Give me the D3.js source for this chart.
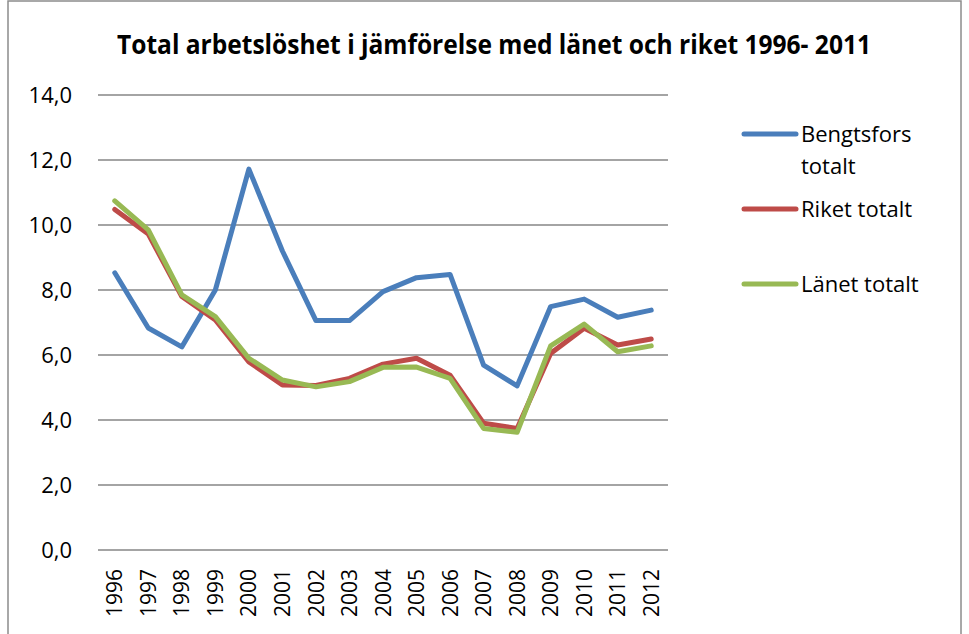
<!DOCTYPE html>
<html>
<head>
<meta charset="utf-8">
<script src="https://cdn.jsdelivr.net/npm/d3@7"></script>
<style>
	body { margin: 0; background: #fff; }
	svg { display: block; font-family: "Open Sans", sans-serif; }
</style>
</head>
<body>
<div id="chart"></div>
<script>
var years = ["1996", "1997", "1998", "1999", "2000", "2001", "2002", "2003", "2004", "2005", "2006", "2007", "2008", "2009", "2010", "2011", "2012"];
var bengtsfors = [8.53, 6.83, 6.25, 8.0, 11.72, 9.2, 7.06, 7.06, 7.95, 8.38, 8.48, 5.69, 5.05, 7.49, 7.72, 7.16, 7.38];
var riket = [10.48, 9.72, 7.8, 7.08, 5.79, 5.08, 5.06, 5.28, 5.72, 5.9, 5.38, 3.9, 3.74, 6.05, 6.82, 6.31, 6.49];
var lanet = [10.74, 9.85, 7.85, 7.18, 5.9, 5.23, 5.02, 5.18, 5.62, 5.63, 5.28, 3.74, 3.62, 6.28, 6.95, 6.1, 6.28];
var yTicks = [0, 2, 4, 6, 8, 10, 12, 14];
var series = [
	{name: ["Bengtsfors", "totalt"], values: bengtsfors, color: "#4a7ebb"},
	{name: ["Riket totalt"], values: riket, color: "#be4b48"},
	{name: ["Länet totalt"], values: lanet, color: "#98b954"}
];
var titleText = "Total arbetslöshet i jämförelse med länet och riket 1996- 2011";

var width = 969, height = 634;
var svg = d3.select("#chart").append("svg")
	.attr("width", width).attr("height", height);

// chart frame
svg.append("rect")
	.attr("x", 8).attr("y", 1)
	.attr("width", 953).attr("height", 660)
	.attr("fill", "none").attr("stroke", "#8c8c8c").attr("stroke-width", 1.5);

var x = d3.scaleBand().domain(years).range([98, 668]).padding(0);
var y = d3.scaleLinear().domain([0, 14]).range([550, 95]);

// gridlines
svg.append("g").selectAll("line")
	.data(yTicks)
	.enter().append("line")
	.attr("x1", 98).attr("x2", 668)
	.attr("y1", function(d) { return y(d); })
	.attr("y2", function(d) { return y(d); })
	.attr("stroke", "#868686").attr("stroke-width", 1.5);

var yAxis = svg.append("g")
	.attr("transform", "translate(98,0)")
	.call(d3.axisLeft(y).tickValues(yTicks).tickSize(0).tickPadding(26)
		.tickFormat(function(d) { return d3.format(".1f")(d).replace(".", ","); }));
yAxis.select(".domain").remove();
yAxis.selectAll("text").attr("font-size", 22).attr("fill", "#000")
	.attr("font-family", "Open Sans");

var xAxis = svg.append("g");
xAxis.selectAll("text")
	.data(years)
	.enter().append("text")
	.attr("transform", function(d) {
		return "translate(" + (x(d) + x.bandwidth() / 2) + ",569) rotate(-90)";
	})
	.attr("dy", "0.36em")
	.attr("text-anchor", "end")
	.attr("font-size", 21)
	.text(function(d) { return d; });

var line = d3.line()
	.x(function(d, i) { return x(years[i]) + x.bandwidth() / 2; })
	.y(function(d) { return y(d); });

svg.append("g").selectAll("path")
	.data(series)
	.enter().append("path")
	.attr("d", function(s) { return line(s.values); })
	.attr("fill", "none")
	.attr("stroke", function(s) { return s.color; })
	.attr("stroke-width", 5)
	.attr("stroke-linejoin", "round")
	.attr("stroke-linecap", "round");

// legend
var legendY = [134, 209, 284];
var legend = svg.append("g").selectAll("g")
	.data(series)
	.enter().append("g")
	.attr("transform", function(s, i) { return "translate(0," + legendY[i] + ")"; });
legend.append("line")
	.attr("x1", 744).attr("x2", 796)
	.attr("stroke", function(s) { return s.color; })
	.attr("stroke-width", 5)
	.attr("stroke-linecap", "round");
legend.each(function(s) {
	var t = d3.select(this).append("text")
		.attr("x", 801).attr("y", 8)
		.attr("font-size", 22);
	s.name.forEach(function(n, j) {
		t.append("tspan").attr("x", 801).attr("dy", j === 0 ? 0 : 32).text(n);
	});
});

// title
var title = svg.append("text")
	.attr("x", 117).attr("y", 54)
	.attr("font-size", 26).attr("font-weight", "bold")
	.text(titleText);
if (title.node().getComputedTextLength() > 754) {
	title.attr("textLength", 754).attr("lengthAdjust", "spacingAndGlyphs");
}
</script>
</body>
</html>
